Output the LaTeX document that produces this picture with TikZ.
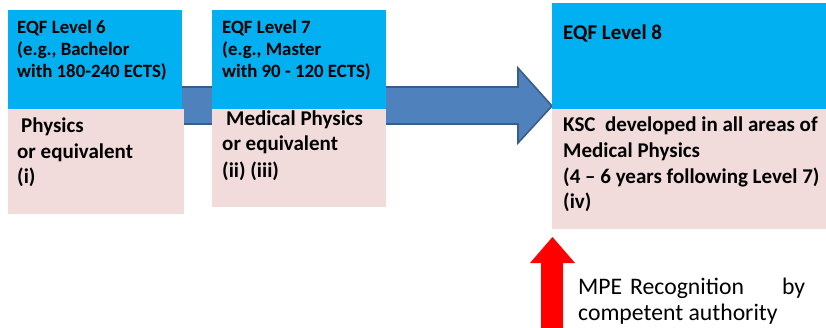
\documentclass[tikz,border=0pt]{standalone}
\usepackage{fontspec}
\setmainfont{Carlito}
\usetikzlibrary{calc}
\definecolor{eqfblue}{HTML}{00B0F0}
\definecolor{eqfpink}{HTML}{F2DCDB}
\definecolor{arrowblue}{HTML}{4F81BD}
\definecolor{arrowedge}{HTML}{385D8A}
\begin{document}
\begin{tikzpicture}[x=1pt,y=-1pt,
  topbox/.style={fill=eqfblue, draw=none, inner sep=0, anchor=north west},
  lowbox/.style={fill=eqfpink, draw=none, inner sep=0, anchor=north west},
  hd/.style={font=\bfseries\fontsize{18.8}{22}\selectfont, inner sep=0, anchor=base west},
  bd/.style={font=\bfseries\fontsize{21}{25}\selectfont, inner sep=0, anchor=base west},
  note/.style={font=\fontsize{23.7}{26}\selectfont, inner sep=0, anchor=base west}]
\useasboundingbox (0,0) rectangle (826,327);
% big blue arrow (drawn behind the boxes)
\coordinate (sa) at (120,87);
\coordinate (tip) at (552,106);
\draw[fill=arrowblue, draw=arrowedge, line width=1.6pt, line join=miter]
  (sa) -- (518,87) -- (518,68) -- (tip) -- (518,143) -- (518,124) -- (120,124) -- cycle;
% level 6
\node[topbox, minimum width=174pt, minimum height=99pt] (b6) at (8,10) {};
\node[lowbox, minimum width=176pt, minimum height=105pt] (p6) at (8,109) {};
% level 7
\node[topbox, minimum width=174pt, minimum height=99pt] (b7) at (212,10) {};
\node[lowbox, minimum width=174pt, minimum height=98pt] (p7) at (212,109) {};
% level 8
\node[topbox, minimum width=274pt, minimum height=106pt] (b8) at (552,3) {};
\node[lowbox, minimum width=274pt, minimum height=120pt] (p8) at (552,109) {};
% texts level 6
\node[hd] (t6a) at (17,33) {EQF Level 6};
\node[hd] (t6b) at (17,55) {(e.g., Bachelor};
\node[hd] (t6c) at (17,77) {with 180-240 ECTS)};
\node[bd] (u6a) at (21,132) {Physics};
\node[bd] (u6b) at (17,158) {or equivalent};
\node[bd] (u6c) at (17,183) {(i)};
% texts level 7
\node[hd] (t7a) at (222,33) {EQF Level 7};
\node[hd] (t7b) at (222,55) {(e.g., Master};
\node[hd] (t7c) at (222,77) {with 90 - 120 ECTS)};
\node[bd] (u7a) at (226,125) {Medical Physics};
\node[bd] (u7b) at (222,150) {or equivalent};
\node[bd] (u7c) at (222,177) {(ii) (iii)};
% texts level 8
\node[bd] (t8a) at (563,39) {EQF Level 8};
\node[bd] (u8a) at (563,131) {KSC\ \ developed in all areas of};
\node[bd] (u8b) at (563,157) {Medical Physics};
\node[bd] (u8c) at (563,183) {(4 – 6 years following Level 7)};
\node[bd] (u8d) at (563,208) {(iv)};
% red arrow
\coordinate (rtip) at (552.5,237);
\fill[red] (541,330) -- (541,263) -- (530,263) -- (rtip) -- (575,263) -- (563,263) -- (563,330) -- cycle;
\node[note, text width=227pt] (m1) at (578,294) {MPE Recognition\hfill by};
\node[note] (m2) at (578,320) {competent authority};
\end{tikzpicture}
\end{document}
